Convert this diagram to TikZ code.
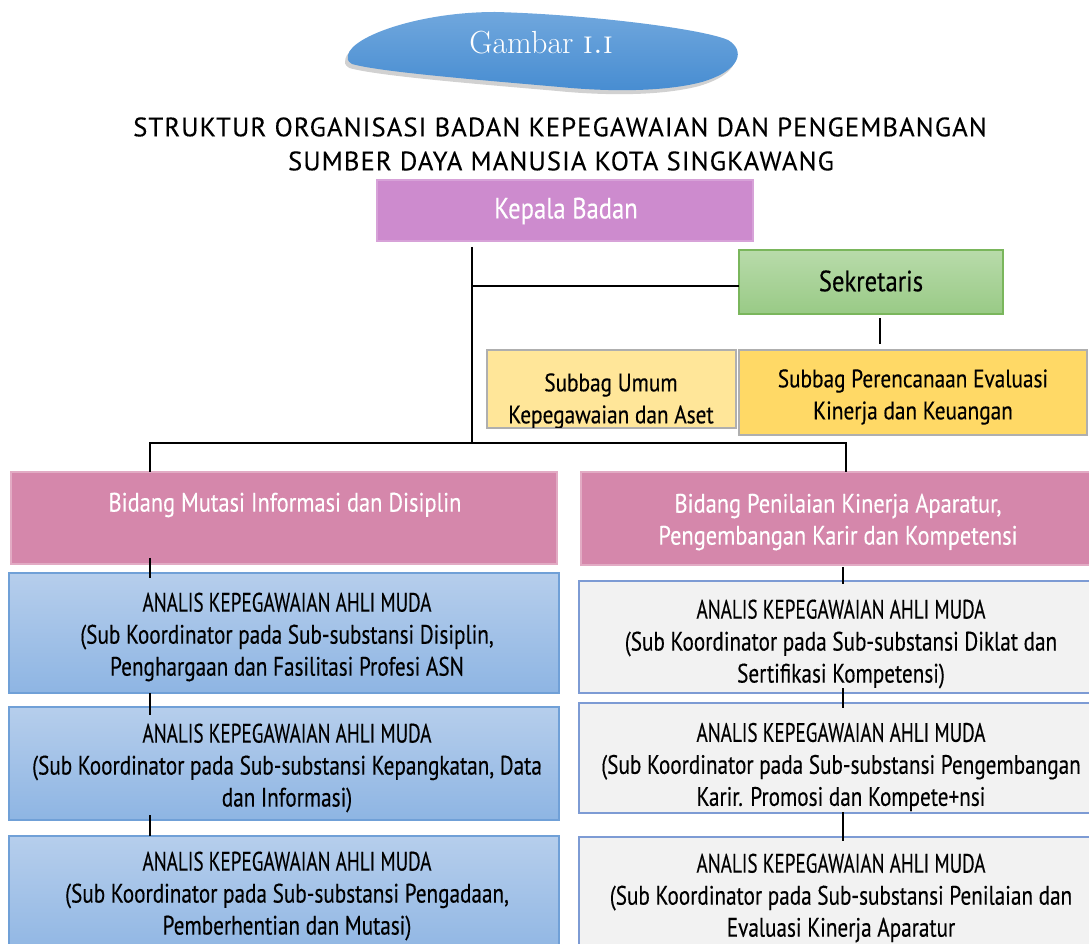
\documentclass[tikz,border=0pt]{standalone}
\usepackage{fontspec}
\newfontfamily\condf[FakeStretch=0.84,FakeBold=0.3]{PT Sans}
\newfontfamily\boxf[FakeStretch=0.795,FakeBold=0.3]{PT Sans}
\newfontfamily\capf[FakeStretch=0.72,FakeBold=0.3]{PT Sans}
\newfontfamily\titlef[LetterSpace=4,FakeBold=0.2]{PT Sans}
\usetikzlibrary{shadows,calc}
\definecolor{kepalaC}{RGB}{205,139,206}
\definecolor{bidangC}{RGB}{213,135,171}
\definecolor{sekTop}{RGB}{184,219,170}
\definecolor{sekBot}{RGB}{153,202,134}
\definecolor{sekLine}{RGB}{122,182,92}
\definecolor{umumC}{RGB}{255,230,153}
\definecolor{renC}{RGB}{255,217,102}
\definecolor{grayLine}{RGB}{175,175,175}
\definecolor{blueTop}{RGB}{182,206,236}
\definecolor{blueBot}{RGB}{142,181,227}
\definecolor{blueLine}{RGB}{112,160,215}
\definecolor{grayFill}{RGB}{242,242,242}
\definecolor{grayBlue}{RGB}{125,155,212}
\definecolor{blobTop}{RGB}{112,167,221}
\definecolor{blobBot}{RGB}{70,140,209}
\newcommand\capline[1]{{\capf #1}}
\tikzset{
  rect/.style n args={4}{at={({(#1+#3)/2},{(#2+#4)/2})},
    minimum width={(#3-#1)*0.75pt}, minimum height={(#4-#2)*0.75pt}},
  boxbase/.style={rectangle, inner sep=0pt, outer sep=0pt, line width=0.9pt},
  kepalabox/.style={boxbase, fill=kepalaC, draw=kepalaC!80!white},
  bidangbox/.style={boxbase, fill=bidangC, draw=bidangC!70!white},
  sekbox/.style={boxbase, top color=sekTop, bottom color=sekBot, draw=sekLine},
  umumbox/.style={boxbase, fill=umumC, draw=grayLine},
  renbox/.style={boxbase, fill=renC, draw=grayLine},
  bluebox/.style={boxbase, top color=blueTop, bottom color=blueBot, draw=blueLine},
  graybox/.style={boxbase, fill=grayFill, draw=grayBlue},
  txt/.style={align=center, inner sep=0pt, font=\condf\fontsize{20}{24}\selectfont},
  atxt/.style={align=center, inner sep=0pt, font=\boxf\fontsize{20}{24}\selectfont},
  wtxt/.style={txt, text=white},
  conn/.style={draw=black, line width=1.6pt},
}
\begin{document}
\begin{tikzpicture}[x=0.75pt,y=-0.75pt]
\useasboundingbox (0,0) rectangle (1089,944);

% title blob
\path[drop shadow={shadow xshift=-2pt, shadow yshift=-3pt, opacity=0.3, fill=black!60},
      top color=blobTop, bottom color=blobBot]
  (348,55) .. controls (352,36) and (420,12) .. (495,12)
  .. controls (580,14) and (700,28) .. (728,40)
  .. controls (745,50) and (742,70) .. (702,82)
  .. controls (660,93) and (600,91) .. (560,87)
  .. controls (480,80) and (380,72) .. (352,64)
  .. controls (347,61) and (347,58) .. (348,55) -- cycle;
\node[text=white, font=\fontsize{24}{28}\selectfont] (gambar) at (541,43) {Gambar \textsc{i.i}};

\node[font=\titlef\fontsize{20}{25}\selectfont, align=center] (title1) at (560,127)
  {STRUKTUR ORGANISASI BADAN KEPEGAWAIAN DAN PENGEMBANGAN};
\node[font=\titlef\fontsize{20}{25}\selectfont, align=center] (title2) at (561,161)
  {SUMBER DAYA MANUSIA KOTA SINGKAWANG};

% boxes
\node[kepalabox, rect={377}{180}{753}{241}] (kepala) {};
\node[wtxt, font=\condf\fontsize{22}{26}\selectfont] (kepalaT) at (566,211) {Kepala Badan};

\node[sekbox, rect={739}{250}{1003}{314}] (sek) {};
\node[txt, font=\condf\fontsize{22}{26}\selectfont] (sekT) at (871,281) {Sekretaris};

\node[umumbox, rect={487}{350}{736}{428}] (umum) {};
\begin{scope}
  \clip (umum.south west) rectangle (umum.north east);
  \node[txt, font=\condf\fontsize{19}{24}\selectfont] (umumT) at (611,401) {Subbag Umum\\Kepegawaian dan Aset};
\end{scope}

\node[renbox, rect={739}{350}{1087}{435}] (ren) {};
\node[txt, font=\condf\fontsize{19}{24}\selectfont] (renT) at (913,397) {Subbag Perencanaan Evaluasi\\Kinerja dan Keuangan};

\node[bidangbox, rect={11}{472}{557}{564}] (bidL) {};
\node[wtxt] (bidLT) at (285,505) {Bidang Mutasi Informasi dan Disiplin};

\node[bidangbox, rect={581}{472}{1095}{565}] (bidR) {};
\node[wtxt] (bidRT) at (838,522) {Bidang Penilaian Kinerja Aparatur,\\Pengembangan Karir dan Kompetensi};

% left column
\node[bluebox, rect={9}{573}{559}{693}] (L1) {};
\node[atxt] (L1T) at (287,637) {\capline{ANALIS KEPEGAWAIAN AHLI MUDA}\\(Sub Koordinator pada Sub-substansi Disiplin,\\Penghargaan dan Fasilitasi Profesi ASN};
\node[bluebox, rect={9}{707}{559}{820}] (L2) {};
\node[atxt] (L2T) at (287,768) {\capline{ANALIS KEPEGAWAIAN AHLI MUDA}\\(Sub Koordinator pada Sub-substansi Kepangkatan, Data\\dan Informasi)};
\node[bluebox, rect={9}{836}{559}{960}] (L3) {};
\node[atxt] (L3T) at (287,896) {\capline{ANALIS KEPEGAWAIAN AHLI MUDA}\\(Sub Koordinator pada Sub-substansi Pengadaan,\\Pemberhentian dan Mutasi)};

% right column
\node[graybox, rect={579}{581}{1095}{693}] (R1) {};
\begin{scope}
  \clip (R1.south west) rectangle (R1.north east);
  \node[atxt] (R1T) at (841,644) {\capline{ANALIS KEPEGAWAIAN AHLI MUDA}\\(Sub Koordinator pada Sub-substansi Diklat dan\\Sertifikasi Kompetensi)};
\end{scope}
\node[graybox, rect={579}{703}{1095}{813}] (R2) {};
\begin{scope}
  \clip (R2.south west) rectangle (R2.north east);
  \node[atxt] (R2T) at (841,767) {\capline{ANALIS KEPEGAWAIAN AHLI MUDA}\\(Sub Koordinator pada Sub-substansi Pengembangan\\Karir. Promosi dan Kompete+nsi};
\end{scope}
\node[graybox, rect={579}{837}{1095}{960}] (R3) {};
\node[atxt] (R3T) at (841,898) {\capline{ANALIS KEPEGAWAIAN AHLI MUDA}\\(Sub Koordinator pada Sub-substansi Penilaian dan\\Evaluasi Kinerja Aparatur};

% connectors
\coordinate (trunk) at (472,443);
\coordinate (busL) at (150,443);
\coordinate (busR) at (846,443);
\draw[conn] ($(kepala.south)+(-93,6)$) -- (trunk);
\draw[conn] (sek.west -| trunk) ++(0,4) -- ($(sek.west)+(0,4)$);
\draw[conn] ($(sek.south)+(9,4)$) -- ($(ren.north)+(-33,-6)$);
\draw[conn, line cap=rect] (busL) -- (busR);
\draw[conn] (busL) -- (bidL.north -| busL);
\draw[conn] (busR) -- (bidR.north -| busR);
\draw[conn] ($(bidL.south -| busL)+(0,-6)$) -- ($(L1.north -| busL)+(0,5)$);
\draw[conn] (L1.south -| busL) -- ($(L2.north -| busL)+(0,8)$);
\draw[conn] ($(L2.south -| busL)+(0,-5)$) -- (L3.north -| busL);
\coordinate (colR) at (843,443);
\draw[conn] ($(bidR.south -| colR)+(0,2)$) -- ($(R1.north -| colR)+(0,3)$);
\draw[conn] ($(R1.south -| colR)+(0,-5)$) -- ($(R2.north -| colR)+(0,5)$);
\draw[conn] ($(R2.south -| colR)+(0,-1)$) -- ($(R3.north -| colR)+(0,4)$);
\end{tikzpicture}
\end{document}
